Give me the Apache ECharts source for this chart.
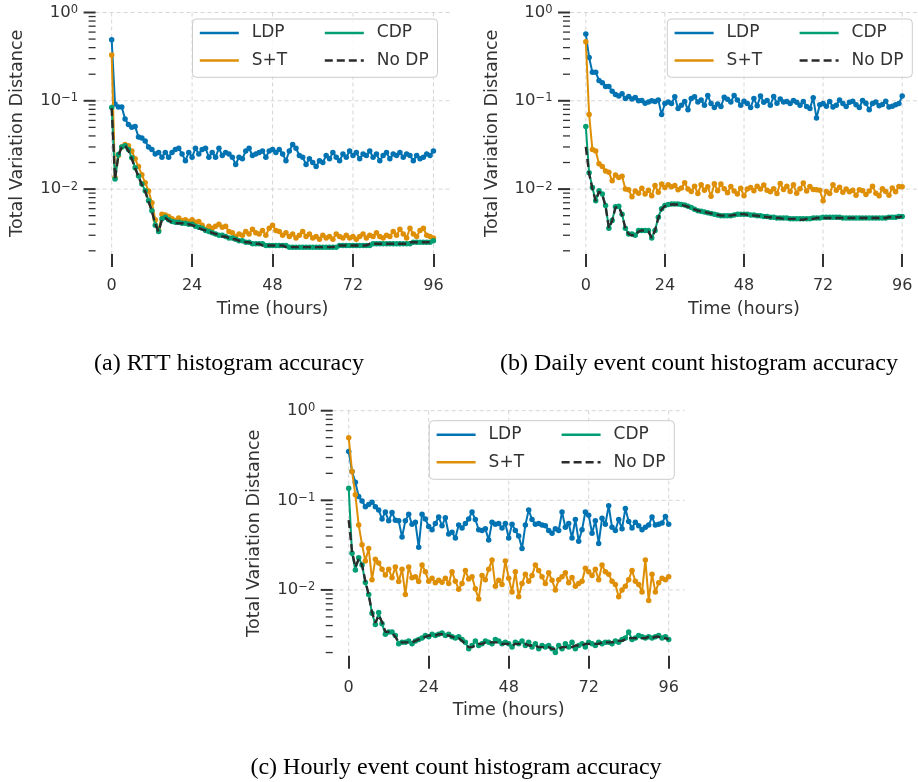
<!DOCTYPE html>
<html><head><meta charset="utf-8">
<script src="https://cdn.jsdelivr.net/npm/echarts@6/dist/echarts.min.js"></script>
<style>html,body{margin:0;padding:0;background:#fff}#c{width:918px;height:782px}</style>
</head><body><div id="c"></div>
<script>
// ---------------- data ----------------
const HOURS = Array.from({length: 97}, (_, i) => i);
const X_TICKS = [0, 24, 48, 72, 96];
const Y_MAJOR = [1, 0.1, 0.01];
const Y_MINOR = [0.002,0.003,0.004,0.005,0.006,0.007,0.008,0.009,
                 0.02,0.03,0.04,0.05,0.06,0.07,0.08,0.09,
                 0.2,0.3,0.4,0.5,0.6,0.7,0.8,0.9];
const NAMES = ['LDP', 'S+T', 'CDP', 'No DP'];
const CAPTIONS = ['(a) RTT histogram accuracy', '(b) Daily event count histogram accuracy', '(c) Hourly event count histogram accuracy'];
const X_NAME = 'Time (hours)';
const Y_NAME = 'Total Variation Distance';

// (a) RTT
const LDP_A = [
0.49,0.092,0.085,0.085,0.062,0.054,0.050,0.051,0.039,0.038,
0.035,0.030,0.028,0.025,0.026,0.023,0.026,0.023,0.026,0.028,
0.029,0.025,0.021,0.026,0.023,0.029,0.025,0.028,0.029,0.023,
0.026,0.023,0.029,0.024,0.026,0.025,0.023,0.019,0.023,0.022,
0.027,0.029,0.024,0.025,0.026,0.027,0.023,0.027,0.028,0.026,
0.028,0.025,0.021,0.027,0.032,0.029,0.024,0.023,0.019,0.022,
0.020,0.018,0.021,0.020,0.024,0.022,0.026,0.023,0.021,0.025,
0.023,0.027,0.024,0.026,0.022,0.025,0.024,0.027,0.023,0.025,
0.021,0.024,0.026,0.022,0.025,0.024,0.026,0.023,0.025,0.024,
0.021,0.024,0.022,0.023,0.025,0.024,0.027];
const ST_A = [
0.33,0.0135,0.024,0.030,0.032,0.031,0.027,0.022,0.018,0.0145,
0.0118,0.0095,0.0070,0.0045,0.0034,0.0052,0.0051,0.0049,0.0046,0.0044,
0.0047,0.0044,0.0045,0.0043,0.0045,0.0042,0.0043,0.0039,0.0035,0.0038,
0.0036,0.0038,0.0040,0.0037,0.0038,0.0033,0.0032,0.0029,0.0031,0.0030,
0.0033,0.0031,0.0035,0.0032,0.0031,0.0034,0.0030,0.0036,0.0039,0.0034,
0.0033,0.0030,0.0032,0.0029,0.0031,0.0028,0.0030,0.0033,0.0029,0.0031,
0.0028,0.0029,0.0027,0.0030,0.0028,0.0029,0.0027,0.0031,0.0029,0.0028,
0.0030,0.0028,0.0029,0.0027,0.0029,0.0031,0.0028,0.0030,0.0029,0.0032,
0.0029,0.0028,0.0030,0.0029,0.0033,0.0030,0.0035,0.0031,0.0028,0.0036,
0.0031,0.0029,0.0034,0.0036,0.0030,0.0029,0.0028];
const CDP_A = [
0.084,0.013,0.0247,0.030,0.031,0.028,0.0226,0.0175,0.0141,0.0114,
0.0096,0.0074,0.0057,0.0039,0.0033,0.0046,0.0048,0.0045,0.0043,0.0042,
0.0042,0.0041,0.0041,0.0040,0.0040,0.0038,0.0037,0.0036,0.0034,0.0033,
0.0032,0.0031,0.0030,0.0030,0.0029,0.0028,0.0028,0.0027,0.0026,0.0026,
0.0025,0.0025,0.0024,0.0024,0.0024,0.0024,0.0023,0.0023,0.0023,0.0023,
0.0023,0.0023,0.0023,0.0022,0.0022,0.0022,0.0022,0.0022,0.0022,0.0022,
0.0022,0.0022,0.0022,0.0022,0.0022,0.0022,0.0022,0.0022,0.0023,0.0023,
0.0023,0.0023,0.0023,0.0023,0.0023,0.0023,0.0023,0.0023,0.0024,0.0024,
0.0024,0.0024,0.0024,0.0024,0.0024,0.0024,0.0024,0.0024,0.0024,0.0024,
0.0025,0.0025,0.0025,0.0025,0.0025,0.0025,0.0026];
const NODP_A = [
0.083,0.013,0.024,0.030,0.031,0.027,0.022,0.0172,0.0138,0.0112,
0.0094,0.0072,0.0056,0.0040,0.0033,0.0045,0.0047,0.0044,0.0042,0.0041,
0.0041,0.0041,0.0040,0.0040,0.0039,0.0038,0.0036,0.0035,0.0034,0.0033,
0.0032,0.0031,0.0030,0.0029,0.0029,0.0028,0.0027,0.0027,0.0026,0.0026,
0.0025,0.0025,0.0024,0.0024,0.0024,0.0023,0.0023,0.0023,0.0023,0.0023,
0.0023,0.0023,0.0022,0.0022,0.0022,0.0022,0.0022,0.0022,0.0022,0.0022,
0.0022,0.0022,0.0022,0.0022,0.0022,0.0022,0.0022,0.0023,0.0023,0.0023,
0.0023,0.0023,0.0023,0.0023,0.0023,0.0023,0.0023,0.0024,0.0024,0.0024,
0.0024,0.0024,0.0024,0.0024,0.0024,0.0024,0.0024,0.0024,0.0024,0.0025,
0.0025,0.0025,0.0025,0.0025,0.0025,0.0025,0.0026];

// (b) Daily event count
const LDP_B = [
0.57,0.31,0.21,0.21,0.17,0.16,0.145,0.145,0.128,0.118,
0.113,0.120,0.106,0.112,0.105,0.109,0.100,0.101,0.094,0.097,
0.100,0.098,0.102,0.070,0.093,0.097,0.093,0.111,0.082,0.089,
0.098,0.079,0.106,0.111,0.097,0.102,0.089,0.115,0.093,0.084,
0.092,0.086,0.110,0.104,0.097,0.115,0.102,0.089,0.099,0.093,
0.084,0.106,0.088,0.113,0.096,0.101,0.089,0.112,0.094,0.105,
0.097,0.098,0.093,0.101,0.096,0.089,0.098,0.086,0.082,0.108,
0.064,0.090,0.093,0.087,0.098,0.085,0.089,0.102,0.093,0.086,
0.096,0.099,0.090,0.084,0.101,0.094,0.079,0.093,0.097,0.088,
0.091,0.099,0.085,0.087,0.090,0.093,0.113];
const ST_B = [
0.466,0.070,0.028,0.027,0.0194,0.018,0.016,0.0155,0.0124,0.0144,
0.0135,0.014,0.0100,0.0098,0.0082,0.0095,0.0090,0.0102,0.0088,0.0097,
0.0084,0.0110,0.0092,0.0114,0.0104,0.0112,0.0106,0.0110,0.0098,0.0103,
0.0118,0.0100,0.0094,0.0108,0.0089,0.0112,0.0097,0.0106,0.0083,0.0115,
0.0096,0.0114,0.0101,0.0091,0.0107,0.0095,0.0088,0.0102,0.0084,0.0100,
0.0104,0.0096,0.0108,0.0100,0.0111,0.0097,0.0093,0.0101,0.0089,0.0116,
0.0099,0.0108,0.0094,0.0112,0.0090,0.0101,0.0117,0.0095,0.0107,0.0099,
0.0098,0.0097,0.0074,0.0094,0.0089,0.0112,0.0097,0.0105,0.0092,0.0100,
0.0093,0.0097,0.0085,0.0098,0.0096,0.0087,0.0095,0.0108,0.0090,0.0084,
0.0101,0.0094,0.0085,0.0103,0.0093,0.0107,0.0106];
const CDP_B = [
0.051,0.0153,0.0104,0.0074,0.0096,0.0088,0.0065,0.0036,0.0044,0.0063,
0.0064,0.0052,0.0036,0.0031,0.0031,0.0030,0.0034,0.0034,0.0034,0.0034,
0.0028,0.0034,0.0048,0.0060,0.0065,0.0067,0.0068,0.0068,0.0068,0.0067,
0.0066,0.0064,0.0062,0.0059,0.0057,0.0056,0.0055,0.0054,0.0053,0.0052,
0.0051,0.0050,0.0050,0.0050,0.0050,0.0051,0.0052,0.0052,0.0052,0.0052,
0.0051,0.0051,0.0050,0.0050,0.0049,0.0049,0.0048,0.0048,0.0047,0.0047,
0.0047,0.0047,0.0046,0.0046,0.0046,0.0046,0.0046,0.0046,0.0046,0.0047,
0.0047,0.0047,0.0048,0.0048,0.0048,0.0048,0.0048,0.0048,0.0047,0.0047,
0.0047,0.0047,0.0047,0.0047,0.0047,0.0047,0.0047,0.0047,0.0047,0.0047,
0.0047,0.0047,0.0048,0.0048,0.0048,0.0049,0.0049];
const NODP_B = [
0.030,0.0150,0.0101,0.0073,0.0094,0.0086,0.0064,0.0036,0.0044,0.0062,
0.0063,0.0051,0.0036,0.0031,0.0030,0.0030,0.0033,0.0034,0.0034,0.0033,
0.0028,0.0034,0.0047,0.0059,0.0064,0.0066,0.0067,0.0067,0.0067,0.0066,
0.0065,0.0063,0.0061,0.0059,0.0057,0.0056,0.0055,0.0054,0.0053,0.0052,
0.0051,0.0050,0.0050,0.0050,0.0050,0.0051,0.0051,0.0052,0.0052,0.0051,
0.0051,0.0050,0.0050,0.0049,0.0049,0.0048,0.0048,0.0047,0.0047,0.0047,
0.0046,0.0046,0.0046,0.0046,0.0046,0.0045,0.0045,0.0046,0.0046,0.0046,
0.0047,0.0047,0.0047,0.0047,0.0047,0.0047,0.0047,0.0047,0.0047,0.0047,
0.0047,0.0047,0.0047,0.0047,0.0047,0.0047,0.0047,0.0047,0.0047,0.0047,
0.0047,0.0047,0.0048,0.0048,0.0048,0.0048,0.0049];

// (c) Hourly event count
const LDP_C = [
0.35,0.21,0.159,0.110,0.098,0.085,0.090,0.095,0.085,0.078,
0.062,0.074,0.059,0.073,0.060,0.059,0.039,0.059,0.070,0.054,
0.057,0.030,0.070,0.062,0.051,0.047,0.055,0.065,0.052,0.064,
0.042,0.044,0.038,0.053,0.049,0.055,0.062,0.074,0.061,0.047,
0.046,0.048,0.036,0.057,0.054,0.055,0.049,0.055,0.038,0.054,
0.046,0.040,0.029,0.053,0.078,0.061,0.054,0.055,0.053,0.052,
0.046,0.043,0.048,0.046,0.074,0.050,0.055,0.038,0.061,0.035,
0.047,0.074,0.068,0.043,0.059,0.033,0.063,0.054,0.087,0.050,
0.046,0.061,0.048,0.081,0.058,0.049,0.057,0.052,0.047,0.050,
0.053,0.065,0.053,0.054,0.056,0.066,0.054];
const ST_C = [
0.50,0.21,0.115,0.053,0.032,0.021,0.029,0.013,0.022,0.020,
0.017,0.0147,0.017,0.0137,0.018,0.0124,0.017,0.0089,0.018,0.0137,
0.0140,0.0124,0.019,0.016,0.0125,0.0135,0.0120,0.0128,0.0122,0.0135,
0.0118,0.0160,0.0125,0.0102,0.0118,0.0165,0.0132,0.0140,0.0103,0.0079,
0.0145,0.0130,0.0170,0.0216,0.0110,0.0128,0.0115,0.0210,0.0135,0.0095,
0.0160,0.0084,0.0118,0.0150,0.0125,0.0145,0.0190,0.0165,0.0140,0.0118,
0.0155,0.0128,0.0100,0.0130,0.0140,0.0155,0.0120,0.0138,0.0110,0.0118,
0.0125,0.0175,0.0160,0.0145,0.0170,0.0130,0.0190,0.0160,0.0150,0.0125,
0.0115,0.0084,0.0100,0.0110,0.0130,0.0165,0.0125,0.0115,0.0095,0.0216,
0.0076,0.0150,0.0095,0.0120,0.0135,0.0130,0.0140];
const CDP_C = [
0.136,0.0256,0.0167,0.0229,0.019,0.0121,0.0089,0.0055,0.0041,0.0056,
0.0042,0.0032,0.0034,0.0034,0.0031,0.0025,0.0026,0.0026,0.0027,0.0025,
0.0027,0.0028,0.0029,0.0031,0.0030,0.0032,0.0031,0.0032,0.0033,0.0031,
0.0032,0.0030,0.0029,0.0030,0.0028,0.0026,0.0022,0.0024,0.0027,0.0024,
0.0025,0.0027,0.0026,0.0025,0.0028,0.0027,0.0025,0.0026,0.0025,0.0023,
0.0026,0.0025,0.0027,0.0024,0.0026,0.0023,0.0025,0.0022,0.0024,0.0023,
0.0024,0.0022,0.0020,0.0024,0.0022,0.0025,0.0023,0.0026,0.0022,0.0024,
0.0025,0.0023,0.0026,0.0025,0.0024,0.0026,0.0025,0.0026,0.0026,0.0025,
0.0027,0.0026,0.0028,0.0029,0.0034,0.0028,0.0029,0.0031,0.0030,0.0029,
0.0030,0.0029,0.0030,0.0031,0.0029,0.0030,0.0028];
const NODP_C = [
0.060,0.027,0.018,0.022,0.019,0.0125,0.0088,0.0056,0.0043,0.0052,
0.0044,0.0034,0.0034,0.0033,0.0030,0.0026,0.0026,0.0026,0.0026,0.0026,
0.0027,0.0028,0.0029,0.0030,0.0031,0.0031,0.0031,0.0032,0.0032,0.0031,
0.0031,0.0030,0.0029,0.0029,0.0027,0.0025,0.0023,0.0023,0.0024,0.0025,
0.0025,0.0026,0.0026,0.0026,0.0026,0.0026,0.0025,0.0025,0.0025,0.0024,
0.0025,0.0025,0.0025,0.0025,0.0024,0.0024,0.0024,0.0023,0.0023,0.0023,
0.0023,0.0022,0.0022,0.0022,0.0023,0.0023,0.0023,0.0023,0.0024,0.0024,
0.0024,0.0025,0.0025,0.0025,0.0025,0.0025,0.0026,0.0026,0.0026,0.0026,
0.0027,0.0027,0.0027,0.0028,0.0029,0.0029,0.0029,0.0029,0.0029,0.0029,
0.0030,0.0029,0.0030,0.0030,0.0029,0.0029,0.0028];

const PANELS = [
  [LDP_A, ST_A, CDP_A, NODP_A],
  [LDP_B, ST_B, CDP_B, NODP_B],
  [LDP_C, ST_C, CDP_C, NODP_C]
];

// ---------------- layout / style ----------------
const X_MIN = -4.8, X_MAX = 100.8, Y_MIN = 0.00184, Y_MAX = 1;
const GRIDS = [
  {left: 95.6, top: 9.7, width: 353.9, height: 244.3},
  {left: 570, top: 9.7, width: 352, height: 244.3},
  {left: 332.7, top: 410.7, width: 352, height: 245.1}
];
const LEGEND_BOX = [
  {x: 192.5, y: 19, w: 245, h: 58.3},
  {x: 667.3, y: 19, w: 245, h: 58.3},
  {x: 429.3, y: 420.7, w: 245, h: 58.6}
];
const CAPTION_POS = [[229, 364], [699, 364], [456, 768]];
const COLORS = ['#0173b2', '#de8f05', '#029e73', '#2b2b2b'];
const FONT = 'DejaVu Sans';
const TXT = '#333333';
const FS_TICK = 16, FS_LEG = 17, FS_NAME = 17.6;

function supLabel(v) {
  const l = Math.log10(v);
  const e = Math.round(l);
  if (Math.abs(l - e) > 1e-6) return '';
  return '{b|10}{s|' + (e < 0 ? '\u2212' + (-e) : String(e)) + '}';
}

const grid = GRIDS.map(g => Object.assign({containLabel: false}, g));
const xAxis = [], yAxis = [], series = [], legend = [];
GRIDS.forEach((g, gi) => {
  xAxis.push({
    type: 'value', gridIndex: gi, min: X_MIN, max: X_MAX,
    axisLine: {show: false}, splitLine: {show: false},
    axisTick: {show: true, customValues: X_TICKS, length: 13, lineStyle: {color: TXT, width: 2}},
    axisLabel: {customValues: X_TICKS, margin: 24, color: TXT, fontSize: FS_TICK, fontFamily: FONT},
    name: X_NAME, nameLocation: 'middle', nameGap: 46,
    nameTextStyle: {color: TXT, fontSize: FS_NAME, fontFamily: FONT}
  });
  yAxis.push({
    type: 'log', logBase: 10, gridIndex: gi, min: Y_MIN, max: Y_MAX,
    axisLine: {show: false}, splitLine: {show: false}, axisTick: {show: false},
    minorTick: {show: false}, minorSplitLine: {show: false},
    axisLabel: {
      formatter: supLabel, margin: 17.5, color: TXT, fontFamily: FONT,
      rich: {
        b: {fontSize: 16.5, lineHeight: 17, padding: [4, 0, 0, 0], verticalAlign: 'bottom', color: TXT, fontFamily: FONT},
        s: {fontSize: 11.5, lineHeight: 12, verticalAlign: 'top', color: TXT, fontFamily: FONT}
      }
    },
    name: Y_NAME, nameLocation: 'middle', nameGap: 69,
    nameTextStyle: {color: TXT, fontSize: FS_NAME, fontFamily: FONT}
  });
  PANELS[gi].forEach((vals, si) => {
    const isNoDP = si === 3;
    series.push({
      name: NAMES[si], type: 'line', xAxisIndex: gi, yAxisIndex: gi,
      data: vals.map((v, i) => [HOURS[i], v]),
      symbol: isNoDP ? 'none' : 'circle', symbolSize: 5.5,
      lineStyle: {color: COLORS[si], width: isNoDP ? 2.4 : 2, type: isNoDP ? [8, 4] : 'solid'},
      itemStyle: {color: COLORS[si]},
      emphasis: {disabled: true}, animation: false, z: 2 + si * 0.1 + (isNoDP ? 1 : 0)
    });
  });
  const b = LEGEND_BOX[gi];
  const colX = [b.x + 6, b.x + 131];
  const cols = [['LDP', 'S+T'], ['CDP', 'No DP']];
  cols.forEach((names, ci) => {
    legend.push({
      orient: 'vertical', left: colX[ci], top: b.y + 4, padding: 0,
      itemWidth: 39, itemHeight: 20, itemGap: 7.5, data: names,
      selectedMode: false, z: 6,
      itemStyle: {opacity: 0}, lineStyle: {width: 2.6},
      textStyle: {fontSize: FS_LEG, fontFamily: FONT, color: TXT, lineHeight: 20, padding: [0, 0, 0, 8]}
    });
  });
});

const chart = echarts.init(document.getElementById('c'), null, {renderer: 'canvas'});
chart.setOption({animation: false, backgroundColor: '#fff', grid, xAxis, yAxis, series, legend});

// axis decorations drawn through the axes' own scales
const graphic = [];
GRIDS.forEach((g, gi) => {
  const P = (x, y) => chart.convertToPixel({gridIndex: gi}, [x, y]);
  const [xl, yb] = P(X_MIN, Y_MIN);
  const [xr, yt] = P(X_MAX, Y_MAX);
  const gridStyle = {stroke: '#d6d6d6', lineWidth: 1, lineDash: [4, 3]};
  Y_MAJOR.forEach(v => {
    const y = P(X_MIN, v)[1];
    graphic.push({type: 'line', z: 1, silent: true, shape: {x1: xl, y1: y, x2: xr, y2: y}, style: gridStyle});
    graphic.push({type: 'line', z: 1, silent: true, shape: {x1: xl - 12, y1: y, x2: xl, y2: y}, style: {stroke: TXT, lineWidth: 2}});
  });
  Y_MINOR.forEach(v => {
    const y = P(X_MIN, v)[1];
    graphic.push({type: 'line', z: 1, silent: true, shape: {x1: xl - 7, y1: y, x2: xl, y2: y}, style: {stroke: TXT, lineWidth: 1.3}});
  });
  X_TICKS.forEach(v => {
    const x = P(v, Y_MIN)[0];
    graphic.push({type: 'line', z: 1, silent: true, shape: {x1: x, y1: yt, x2: x, y2: yb}, style: gridStyle});
  });
  const b = LEGEND_BOX[gi];
  graphic.push({type: 'rect', z: 5, silent: true, shape: {x: b.x, y: b.y, width: b.w, height: b.h, r: 4},
    style: {fill: 'rgba(255,255,255,0.8)', stroke: '#cccccc', lineWidth: 1}});
  graphic.push({type: 'text', z: 5, silent: true, x: CAPTION_POS[gi][0], y: CAPTION_POS[gi][1],
    style: {text: CAPTIONS[gi], fill: '#000', font: '24px "Liberation Serif"', align: 'center', verticalAlign: 'middle'}});
});
chart.setOption({graphic});
</script></body></html>
